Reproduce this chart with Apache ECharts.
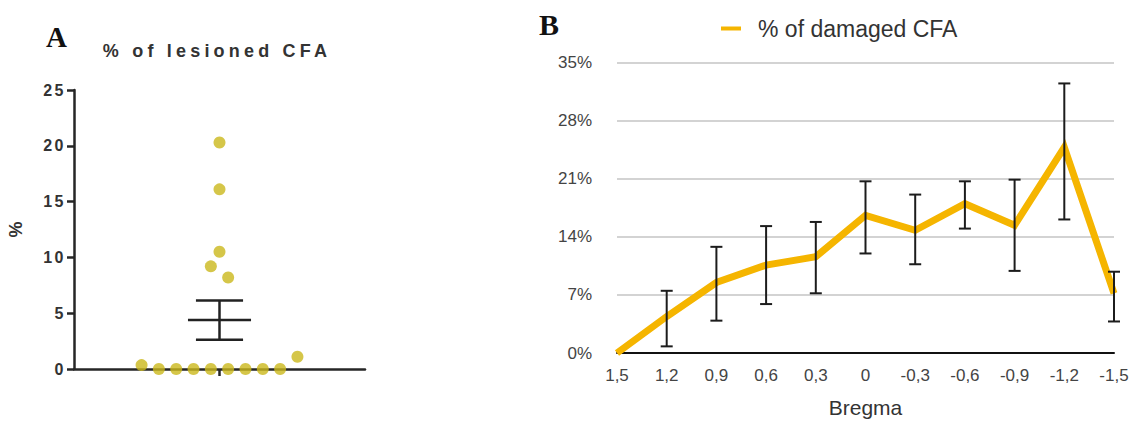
<!DOCTYPE html>
<html>
<head>
<meta charset="utf-8">
<script src="https://cdn.jsdelivr.net/npm/echarts@6/dist/echarts.min.js"></script>
<style>
  html, body { margin: 0; padding: 0; background: #ffffff; }
  #chart { width: 1133px; height: 423px; }
</style>
</head>
<body>
<div id="chart"></div>
<script>
// Panel A: individual lesion percentages and their horizontal slot in the dot column
const lesionValues = [0.35, 0, 0, 0, 0, 0, 0, 0, 0, 1.1, 20.3, 16.1, 10.5, 9.2, 8.2];
const lesionSlot   = [-4.5, -3.5, -2.5, -1.5, -0.5, 0.5, 1.5, 2.5, 3.5, 4.5, 0, 0, 0, -0.5, 0.5];
const lesionTicks  = [0, 5, 10, 15, 20, 25];

// Panel B: damaged CFA along the Bregma coordinate, with error bounds
const bregmaLabels = ['1,5', '1,2', '0,9', '0,6', '0,3', '0', '-0,3', '-0,6', '-0,9', '-1,2', '-1,5'];
const damagedPct   = [0, 4.4, 8.5, 10.6, 11.6, 16.6, 14.8, 18.0, 15.4, 24.8, 7.2];
const damagedLow   = [null, 0.8, 3.9, 5.9, 7.2, 12.0, 10.7, 15.0, 9.9, 16.1, 3.8];
const damagedHigh  = [null, 7.5, 12.8, 15.3, 15.8, 20.7, 19.1, 20.7, 20.9, 32.5, 9.8];
const damagedTicks = [0, 7, 14, 21, 28, 35];

// mean ± SEM of the lesion values
const n = lesionValues.length;
const mean = lesionValues.reduce((a, b) => a + b, 0) / n;
const sd = Math.sqrt(lesionValues.reduce((a, v) => a + (v - mean) * (v - mean), 0) / (n - 1));
const sem = sd / Math.sqrt(n);

const scatterData = lesionValues.map((v, i) => [lesionSlot[i], v]);
const errData = damagedPct.map((v, i) => [i, damagedLow[i], damagedHigh[i]])
  .filter(d => d[1] !== null);

const darkText = '#333333';
const sansA = 'Liberation Sans, Arial, sans-serif';

const chart = echarts.init(document.getElementById('chart'), null, { renderer: 'svg' });

chart.setOption({
  backgroundColor: '#ffffff',
  animation: false,
  graphic: [
    { type: 'text', left: 46, top: 22,
      style: { text: 'A', font: 'bold 29px "Liberation Serif", "Times New Roman", serif', fill: '#111' } },
    { type: 'text', left: 539, top: 9,
      style: { text: 'B', font: 'bold 30px "Liberation Serif", "Times New Roman", serif', fill: '#111' } },
    { type: 'text', x: 217, y: 51,
      style: { text: '% of lesioned CFA', font: 'bold 18px ' + sansA, fill: darkText,
               align: 'center', verticalAlign: 'middle' } }
  ],
  legend: {
    data: ['% of damaged CFA'],
    left: 716, top: 12,
    icon: 'rect', itemWidth: 20, itemHeight: 4,
    textStyle: { fontSize: 23, color: '#333', fontFamily: sansA, padding: [0, 0, 0, 12] }
  },
  grid: [
    { left: 74, top: 90, width: 291, height: 279 },
    { left: 617, top: 62.7, width: 497, height: 293 }
  ],
  xAxis: [
    {
      gridIndex: 0, type: 'value', min: -8.4, max: 8.4,
      axisLine: { show: true, onZero: false, lineStyle: { color: '#262626', width: 2.5 } },
      axisTick: { show: true, customValues: [0], length: 7, lineStyle: { color: '#262626', width: 2.5 } },
      axisLabel: { show: false },
      splitLine: { show: false }
    },
    {
      gridIndex: 1, type: 'category', data: bregmaLabels, boundaryGap: false,
      axisLine: { show: true, lineStyle: { color: '#111', width: 2 } },
      axisTick: { show: false },
      axisLabel: { fontSize: 17, color: '#444', fontFamily: sansA, margin: 14 },
      name: 'Bregma', nameLocation: 'middle', nameGap: 44,
      nameTextStyle: { fontSize: 21, color: '#333', fontFamily: sansA }
    }
  ],
  yAxis: [
    {
      gridIndex: 0, type: 'value', min: 0, max: 25, interval: 5,
      axisLine: { show: true, onZero: false, lineStyle: { color: '#262626', width: 2.5 } },
      axisTick: { show: true, length: 7, lineStyle: { color: '#262626', width: 2.5 } },
      axisLabel: { fontSize: 16, fontWeight: 'bold', color: darkText, fontFamily: sansA, margin: 8,
                   customValues: lesionTicks },
      splitLine: { show: false },
      name: '%', nameLocation: 'middle', nameGap: 49, nameRotate: 90,
      nameTextStyle: { fontSize: 18, fontWeight: 'bold', color: darkText, fontFamily: sansA }
    },
    {
      gridIndex: 1, type: 'value', min: 0, max: 35, interval: 7,
      axisLine: { show: false },
      axisTick: { show: false },
      axisLabel: { fontSize: 17, color: '#444', fontFamily: sansA, margin: 25,
                   formatter: '{value}%', customValues: damagedTicks },
      splitLine: { show: true, lineStyle: { color: '#c4c4c4', width: 1.5 } }
    }
  ],
  series: [
    {
      name: 'lesioned', type: 'scatter', xAxisIndex: 0, yAxisIndex: 0,
      data: scatterData, symbolSize: 12,
      itemStyle: { color: '#cbb81c' }, z: 3
    },
    {
      name: 'mean', type: 'custom', xAxisIndex: 0, yAxisIndex: 0,
      data: [[0, mean, mean - sem, mean + sem]],
      encode: { x: 0, y: [1, 2, 3] },
      renderItem: function (params, api) {
        const m = api.value(1), lo = api.value(2), hi = api.value(3);
        const pm0 = api.coord([-1.82, m]), pm1 = api.coord([1.82, m]);
        const pl0 = api.coord([-1.36, lo]), pl1 = api.coord([1.36, lo]);
        const ph0 = api.coord([-1.36, hi]), ph1 = api.coord([1.36, hi]);
        const c = api.coord([0, m]);
        const st = { stroke: '#222', lineWidth: 2.5 };
        return { type: 'group', children: [
          { type: 'line', shape: { x1: pm0[0], y1: pm0[1], x2: pm1[0], y2: pm1[1] }, style: st },
          { type: 'line', shape: { x1: pl0[0], y1: pl0[1], x2: pl1[0], y2: pl1[1] }, style: st },
          { type: 'line', shape: { x1: ph0[0], y1: ph0[1], x2: ph1[0], y2: ph1[1] }, style: st },
          { type: 'line', shape: { x1: c[0], y1: pl0[1], x2: c[0], y2: ph0[1] }, style: st }
        ] };
      },
      z: 4
    },
    {
      name: '% of damaged CFA', type: 'line', xAxisIndex: 1, yAxisIndex: 1,
      data: damagedPct, showSymbol: false, symbol: 'none',
      lineStyle: { color: '#f5b500', width: 7, join: 'miter', cap: 'butt' },
      itemStyle: { color: '#f5b500' }, z: 2
    },
    {
      name: 'error', type: 'custom', xAxisIndex: 1, yAxisIndex: 1,
      data: errData, encode: { x: 0, y: [1, 2] },
      renderItem: function (params, api) {
        const i = api.value(0);
        const top = api.coord([i, api.value(2)]);
        const bot = api.coord([i, api.value(1)]);
        const w = 6;
        const st = { stroke: '#1c1c1c', lineWidth: 2 };
        return { type: 'group', children: [
          { type: 'line', shape: { x1: top[0], y1: top[1], x2: bot[0], y2: bot[1] }, style: st },
          { type: 'line', shape: { x1: top[0] - w, y1: top[1], x2: top[0] + w, y2: top[1] }, style: st },
          { type: 'line', shape: { x1: bot[0] - w, y1: bot[1], x2: bot[0] + w, y2: bot[1] }, style: st }
        ] };
      },
      z: 5
    }
  ]
});

// Panel A uses widely tracked lettering
function trackPanelA() {
  const host = document.getElementById('chart');
  const box = host.getBoundingClientRect();
  host.querySelectorAll('svg text').forEach(t => {
    const r = t.getBoundingClientRect();
    const txt = t.textContent;
    if (r.left - box.left < 400 && txt !== 'A' && txt !== '%') {
      t.setAttribute('letter-spacing', txt.length > 3 ? '4.2px' : '2.5px');
    }
  });
}
trackPanelA();
chart.on('finished', trackPanelA);
</script>
</body>
</html>
